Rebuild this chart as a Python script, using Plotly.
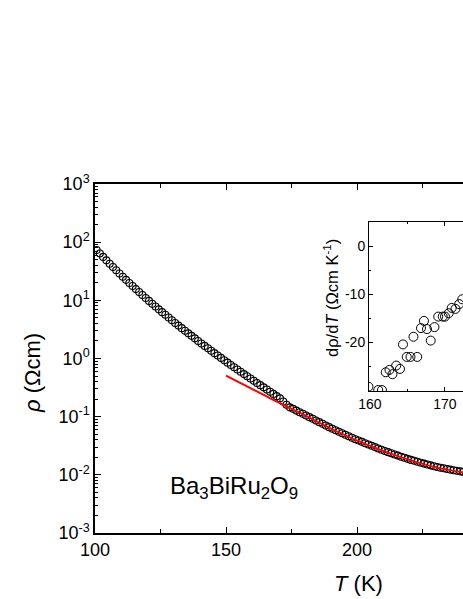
import plotly.graph_objects as go

# ---------------- data ----------------
T_main = [100.6, 101.85, 103.1, 104.35, 105.6, 106.85, 108.1, 109.35, 110.6, 111.85,
          113.1, 114.35, 115.6, 116.85, 118.1, 119.35, 120.6, 121.85, 123.1, 124.35,
          125.6, 126.85, 128.1, 129.35, 130.6, 131.85, 133.1, 134.35, 135.6, 136.85,
          138.1, 139.35, 140.6, 141.85, 143.1, 144.35, 145.6, 146.85, 148.1, 149.35,
          150.6, 151.85, 153.1, 154.35, 155.6, 156.85, 158.1, 159.35, 160.6, 161.85,
          163.1, 164.35, 165.6, 166.85, 168.1, 169.35, 170.6, 171.85, 173.1, 174.35,
          175.6, 176.85, 178.1, 179.35, 180.6, 181.85, 183.1, 184.35, 185.6, 186.85,
          188.1, 189.35, 190.6, 191.85, 193.1, 194.35, 195.6, 196.85, 198.1, 199.35,
          200.6, 201.85, 203.1, 204.35, 205.6, 206.85, 208.1, 209.35, 210.6, 211.85,
          213.1, 214.35, 215.6, 216.85, 218.1, 219.35, 220.6, 221.85, 223.1, 224.35,
          225.6, 226.85, 228.1, 229.35, 230.6, 231.85, 233.1, 234.35, 235.6, 236.85,
          238.1, 239.35, 240.6, 241.85]

log10_rho_main = [1.865, 1.806, 1.747, 1.687, 1.628, 1.572, 1.516, 1.461, 1.405, 1.352,
                  1.299, 1.246, 1.193, 1.142, 1.092, 1.041, 0.990, 0.942, 0.894, 0.845,
                  0.797, 0.751, 0.704, 0.658, 0.611, 0.566, 0.522, 0.477, 0.432, 0.389,
                  0.346, 0.302, 0.259, 0.217, 0.175, 0.134, 0.092, 0.051, 0.010, -0.030,
                  -0.071, -0.111, -0.150, -0.190, -0.229, -0.268, -0.306, -0.345, -0.383, -0.421,
                  -0.458, -0.496, -0.533, -0.571, -0.609, -0.647, -0.685, -0.740, -0.795, -0.840,
                  -0.866, -0.896, -0.923, -0.951, -0.979, -1.008, -1.036, -1.065, -1.094, -1.123,
                  -1.151, -1.180, -1.208, -1.234, -1.260, -1.286, -1.312, -1.337, -1.362, -1.387,
                  -1.411, -1.433, -1.456, -1.478, -1.501, -1.523, -1.546, -1.568, -1.590, -1.610,
                  -1.630, -1.650, -1.669, -1.688, -1.707, -1.725, -1.743, -1.759, -1.775, -1.792,
                  -1.807, -1.822, -1.837, -1.852, -1.865, -1.877, -1.888, -1.899, -1.910, -1.920,
                  -1.930, -1.940, -1.949, -1.958]

T_fit = [150, 155, 160, 165, 170, 175, 180, 185, 190, 195, 200, 205, 210, 215, 220, 225, 230, 235, 240, 245]
log10_rho_fit = [-0.295, -0.41, -0.525, -0.64, -0.755, -0.865, -0.975, -1.09, -1.205, -1.31,
                 -1.41, -1.50, -1.59, -1.67, -1.745, -1.81, -1.87, -1.915, -1.955, -1.99]

T_inset = [159.8, 161.1, 161.6, 162.1, 162.6, 163.0, 163.5, 164.0, 164.4, 164.9,
           165.4, 165.8, 166.3, 166.8, 167.2, 167.6, 168.1, 168.6, 169.1, 169.7,
           170.0, 170.5, 170.9, 171.4, 171.9, 172.3]
drho_dT_inset = [-29.2, -29.9, -29.9, -26.2, -25.7, -26.6, -24.8, -25.5, -20.4, -23.0,
                 -23.0, -18.8, -23.0, -17.0, -15.5, -17.2, -19.6, -16.8, -14.6, -14.6,
                 -14.6, -13.9, -12.8, -13.0, -12.0, -11.0]

x_major = [100, 150, 200, 250, 300]
x_minor = [125, 175, 225, 275]
y_exponents = [-3, -2, -1, 0, 1, 2, 3]
inset_x_major = [160, 170, 180]
inset_x_minor = [165, 175]
inset_y_major = [0, -10, -20]
inset_y_labels = ["0", "-10", "-20"]
inset_y_minor = [5, -5, -15, -25]

FONT = "Liberation Sans, Arial, sans-serif"

rho_main = [10 ** v for v in log10_rho_main]
rho_fit = [10 ** v for v in log10_rho_fit]

fig = go.Figure()
fig.add_trace(go.Scatter(
    x=T_main, y=rho_main, mode="markers",
    marker=dict(symbol="circle-open", size=7, color="black", line=dict(width=1.1, color="black")),
    xaxis="x", yaxis="y", showlegend=False))
fig.add_trace(go.Scatter(
    x=T_fit, y=rho_fit, mode="lines", line=dict(color="#ff0000", width=2, shape="spline"),
    xaxis="x", yaxis="y", showlegend=False))
fig.add_trace(go.Scatter(
    x=T_inset, y=drho_dT_inset, mode="markers",
    marker=dict(symbol="circle-open", size=9, color="black", line=dict(width=1, color="black")),
    xaxis="x2", yaxis="y2", showlegend=False))

y_tickvals = [10.0 ** e for e in y_exponents]
y_ticktext = ["10<sup>%d</sup>" % e for e in y_exponents]
y_minor = [m * 10.0 ** e for e in y_exponents[:-1] for m in range(2, 10)]

W, H = 463, 599
L_, R_, T_, B_ = 95, 0, 184, 66
pw = W - L_ - R_
ph = H - T_ - B_

fig.update_layout(
    width=W, height=H,
    margin=dict(l=L_, r=R_, t=T_, b=B_, pad=0),
    paper_bgcolor="white", plot_bgcolor="white",
    font=dict(family=FONT, color="black"),
    xaxis=dict(
        domain=[0, 1], range=[100, 100 + pw / 2.62],
        tickmode="array", tickvals=x_major, ticktext=[str(v) for v in x_major],
        ticks="inside", ticklen=6, tickwidth=1.3, tickcolor="black",
        minor=dict(tickmode="array", tickvals=x_minor, ticks="inside", ticklen=4, tickwidth=1.3, tickcolor="black"),
        showline=True, linecolor="black", linewidth=1.5, mirror="ticks",
        showgrid=False, zeroline=False,
        tickfont=dict(size=18, family=FONT),
    ),
    yaxis=dict(
        domain=[0, 1], type="log", range=[-3, 3],
        tickmode="array", tickvals=y_tickvals, ticktext=y_ticktext,
        ticks="inside", ticklen=6, tickwidth=1.3, tickcolor="black",
        minor=dict(tickmode="array", tickvals=y_minor, ticks="inside", ticklen=3, tickwidth=1, tickcolor="black"),
        showline=True, linecolor="black", linewidth=1.5, mirror=False,
        showgrid=False, zeroline=False,
        tickfont=dict(size=18, family=FONT),
    ),
    xaxis2=dict(
        domain=[(369 - L_) / pw, 1], range=[159.87, 159.87 + (W - 369) / 7.5],
        anchor="y2",
        tickmode="array", tickvals=inset_x_major, ticktext=[str(v) for v in inset_x_major],
        ticks="inside", ticklen=4, tickwidth=1, tickcolor="black",
        minor=dict(tickmode="array", tickvals=inset_x_minor, ticks="inside", ticklen=2, tickwidth=1, tickcolor="black"),
        showline=True, linecolor="black", linewidth=1, mirror="ticks",
        showgrid=False, zeroline=False,
        tickfont=dict(size=14, family=FONT),
    ),
    yaxis2=dict(
        domain=[(533 - 391) / ph, (533 - 222) / ph], range=[-30.1, 5.1],
        anchor="x2",
        tickmode="array", tickvals=inset_y_major, ticktext=inset_y_labels,
        ticks="inside", ticklen=4, tickwidth=1, tickcolor="black",
        minor=dict(tickmode="array", tickvals=inset_y_minor, ticks="inside", ticklen=2, tickwidth=1, tickcolor="black"),
        showline=True, linecolor="black", linewidth=1, mirror=False,
        showgrid=False, zeroline=False,
        tickfont=dict(size=14, family=FONT),
    ),
    annotations=[
        dict(text="<i>T</i> (K)", xref="paper", yref="paper",
             x=(358 - L_) / pw, y=(533 - 583) / ph, xanchor="center", yanchor="middle",
             showarrow=False, font=dict(size=22, family=FONT)),
        dict(text="<i>ρ</i> (Ωcm)", xref="paper", yref="paper",
             x=(32 - L_) / pw, y=(533 - 373) / ph, xanchor="center", yanchor="middle",
             textangle=-90, showarrow=False, font=dict(size=22, family=FONT)),
        dict(text="dρ/d<i>T</i> (Ωcm K<sup>-1</sup>)", xref="paper", yref="paper",
             x=(331 - L_) / pw, y=(533 - 298) / ph, xanchor="center", yanchor="middle",
             textangle=-90, showarrow=False, font=dict(size=16.5, family=FONT)),
        dict(text="Ba<sub>3</sub>BiRu<sub>2</sub>O<sub>9</sub>", xref="paper", yref="paper",
             x=(168 - L_) / pw, y=(533 - 487) / ph, xanchor="left", yanchor="middle",
             showarrow=False, font=dict(size=24, family=FONT)),
    ],
)

fig.write_html("out.html", config={"displayModeBar": False},
               post_script="document.body.style.margin='0';document.body.style.overflow='hidden';")
